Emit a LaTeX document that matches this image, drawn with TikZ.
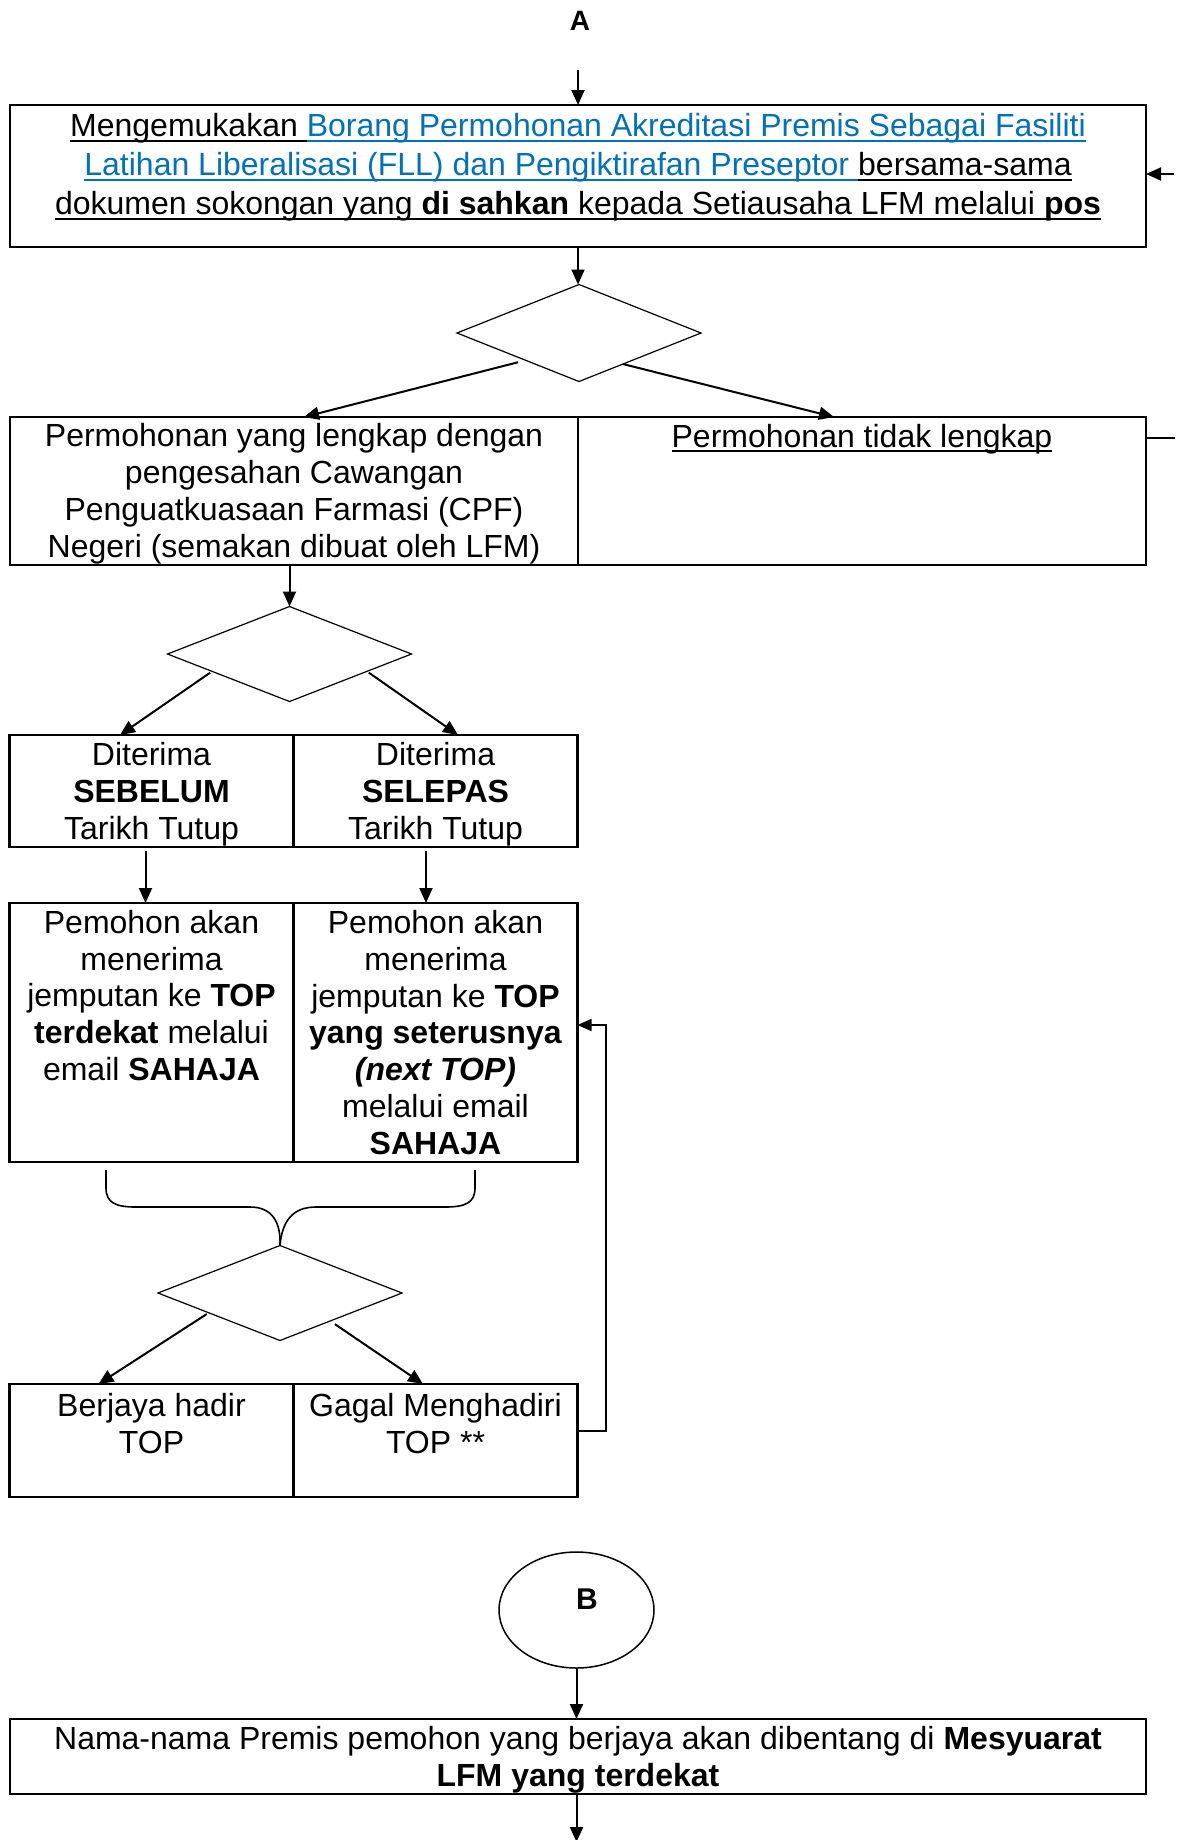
\documentclass[tikz,border=0pt]{standalone}
\usepackage{fontspec}
\setmainfont{Liberation Sans}
\newcommand{\myuline}[1]{\leavevmode\setbox0=\hbox{#1}\rlap{\vrule width\wd0 height -3pt depth 5pt}\box0}
\usetikzlibrary{arrows.meta,shapes.geometric,calc}
\definecolor{linkblue}{RGB}{0,112,192}
\tikzset{
  cell/.style={draw, rectangle, line width=2.2pt, inner sep=0pt, outer sep=0pt},
  dia/.style={draw, diamond, line width=1.2pt, inner sep=0pt, outer sep=0pt, minimum width=244pt, minimum height=96pt},
  txt/.style={font=\fontsize{32}{36.7}\selectfont, align=center, inner sep=0pt},
  lbl/.style={font=\fontsize{28}{30}\selectfont\bfseries, inner sep=0pt},
  arr/.style={line width=2pt, -{Triangle[length=15pt,width=13pt]}},
}
\begin{document}
\begin{tikzpicture}[x=1pt,y=-1pt]
\useasboundingbox (0,0) rectangle (1181,1840);

% connector A
\node[lbl] (A) at (580,20.5) {A};
\coordinate (a0) at (578,70);

% top box
\node[cell, minimum width=1136pt, minimum height=142pt] (top) at (578,176) {};
\node[txt, font=\fontsize{32}{39}\selectfont] (ttop) at (578,167.5) {\myuline{Mengemukakan }\textcolor{linkblue}{\myuline{Borang Permohonan Akreditasi Premis Sebagai Fasiliti}}\\
\textcolor{linkblue}{\myuline{Latihan Liberalisasi (FLL) dan Pengiktirafan Preseptor }}\myuline{bersama-sama}\\
\myuline{dokumen sokongan yang \textbf{di sahkan} kepada Setiausaha LFM melalui \textbf{pos}}};
\draw[arr] (a0) -- (a0 |- top.north);
\coordinate (s1) at (1174,174);
\draw[arr] (s1) -- (top.east |- s1);

% decision 1
\node[dia, minimum height=97pt] (d1) at (579,333) {};
\draw[arr] (a0 |- top.south) -- (a0 |- d1.north);

% row 2
\node[cell, minimum width=568pt, minimum height=148pt] (r2l) at (294,491) {};
\node[cell, minimum width=568pt, minimum height=148pt] (r2r) at (862,491) {};
\node[txt, font=\fontsize{32}{37}\selectfont] (t2l) at (294,494) {Permohonan yang lengkap dengan\\pengesahan Cawangan\\Penguatkuasaan Farmasi (CPF)\\Negeri (semakan dibuat oleh LFM)};
\node[txt] (t2r) at (862,439) {\myuline{Permohonan tidak lengkap}};
\draw[arr] ($(d1.west)!0.5!(d1.south)+(0,5)$) -- ($(r2l.north)+(10,0)$);
\draw[arr] ($(d1.east)!0.64!(d1.south)$) -- ($(r2r.north)+(-28,0)$);
\coordinate (s2) at (1175,438);
\draw[line width=1.5pt] (r2r.east |- s2) -- (s2);

% decision 2
\node[dia, minimum height=95pt] (d2) at (289.5,654) {};
\draw[arr] (r2l.south -| d2.north) -- (d2.north);

% row 3
\node[cell, minimum width=284pt, minimum height=112pt] (r3l) at (151.5,791) {};
\node[cell, minimum width=284pt, minimum height=112pt] (r3r) at (435.5,791) {};
\node[txt, font=\fontsize{32}{37}\selectfont] (t3l) at (151.5,794) {Diterima\\\textbf{SEBELUM}\\Tarikh Tutup};
\node[txt, font=\fontsize{32}{37}\selectfont] (t3r) at (435.5,794) {Diterima\\\textbf{SELEPAS}\\Tarikh Tutup};
\draw[arr] ($(d2.west)!0.35!(d2.south)+(0,2)$) -- ($(r3l.north)+(-31.5,0)$);
\draw[arr] ($(d2.east)!0.35!(d2.south)+(0,2)$) -- ($(r3r.north)+(22.5,0)$);

% row 4
\node[cell, minimum width=284pt, minimum height=259pt] (r4l) at (151.5,1032.5) {};
\node[cell, minimum width=284pt, minimum height=259pt] (r4r) at (435.5,1032.5) {};
\node[txt] (t4l) at (151.5,995.5) {Pemohon akan\\menerima\\jemputan ke \textbf{TOP}\\\textbf{terdekat} melalui\\email \textbf{SAHAJA}};
\node[txt] (t4r) at (435.5,1032.5) {Pemohon akan\\menerima\\jemputan ke \textbf{TOP}\\\textbf{yang seterusnya}\\\textbf{\textit{(next TOP)}}\\melalui email\\\textbf{SAHAJA}};
\draw[arr] ($(r3l.south)+(-6,4)$) -- ($(r4l.north)+(-6,0)$);
\draw[arr] ($(r3r.south)+(-9.5,4)$) -- ($(r4r.north)+(-9.5,0)$);

% decision 3 and brace
\node[dia, minimum height=95pt] (d3) at (280,1293) {};
\draw[line width=1.6pt] (106,1170) -- (106,1188) .. controls (106,1203) and (116,1207) .. (136,1207) -- (250,1207) .. controls (272,1207) and (281,1222) .. (d3.north);
\draw[line width=1.6pt] (475,1170) -- (475,1188) .. controls (475,1203) and (465,1207) .. (445,1207) -- (316,1207) .. controls (292,1207) and (282,1222) .. (d3.north);

% row 5
\node[cell, minimum width=284pt, minimum height=113pt] (r5l) at (151.5,1440.5) {};
\node[cell, minimum width=284pt, minimum height=113pt] (r5r) at (435.5,1440.5) {};
\node[txt, font=\fontsize{32}{37}\selectfont] (t5l) at (151.5,1423.5) {Berjaya hadir\\TOP};
\node[txt, font=\fontsize{32}{37}\selectfont] (t5r) at (435.5,1423.5) {Gagal Menghadiri\\TOP **};
\draw[arr] ($(d3.west)!0.4!(d3.south)+(0,2)$) -- ($(r5l.north)+(-53,0)$);
\draw[arr] ($(d3.east)!0.55!(d3.south)+(0,5)$) -- ($(r5r.north)+(-12.5,0)$);

% feedback loop
\coordinate (fb1) at (606,1431);
\coordinate (fb2) at (606,1025);
\draw[line width=1.5pt, -{Triangle[length=14pt,width=12pt]}] (r5r.east |- fb1) -- (fb1) -- (fb2) -- (r4r.east |- fb2);

% connector B
\node[draw, ellipse, line width=1.5pt, minimum width=155pt, minimum height=116pt, inner sep=0pt] (B) at (576.5,1610) {};
\node[lbl, font=\fontsize{30}{34}\selectfont\bfseries] (Bt) at (587,1599) {B};

% bottom box
\node[cell, minimum width=1136pt, minimum height=75pt] (bot) at (578,1756.5) {};
\node[txt, font=\fontsize{32}{37}\selectfont] (tbot) at (578,1759.5) {Nama-nama Premis pemohon yang berjaya akan dibentang di \textbf{Mesyuarat}\\\textbf{LFM yang terdekat}};
\draw[arr] (B.south) -- (bot.north -| B.south);
\coordinate (e) at (576.5,1842);
\draw[arr] (bot.south -| e) -- (e);
\end{tikzpicture}
\end{document}
